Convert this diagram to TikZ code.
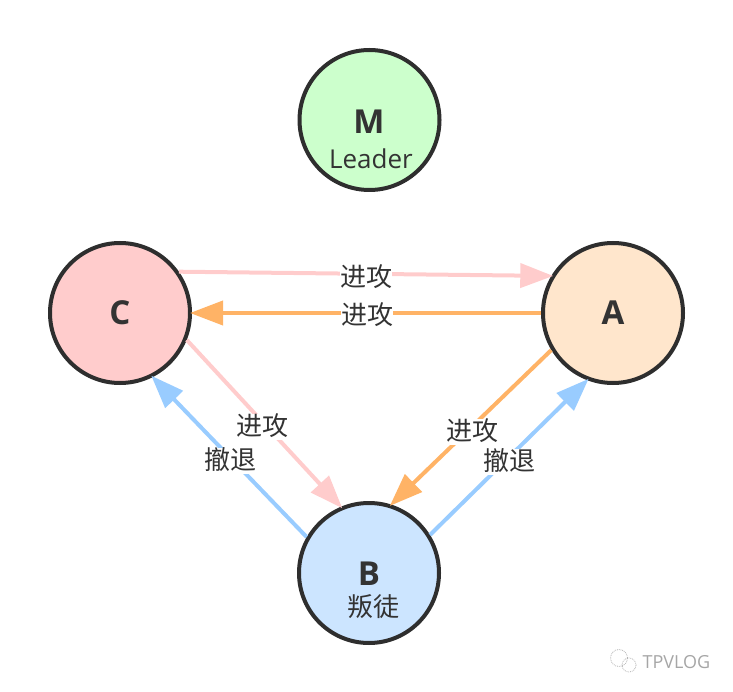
\documentclass[tikz,border=0pt]{standalone}
\usepackage{fontspec}
\setmainfont{Open Sans}
\newfontfamily\cjkfont{Noto Sans CJK SC}
\usetikzlibrary{arrows.meta}
\definecolor{inkdark}{HTML}{333333}
\definecolor{ringdark}{HTML}{2E2E2E}
\definecolor{leadergreen}{HTML}{CCFFCC}
\definecolor{attackpink}{HTML}{FFCCCC}
\definecolor{attackorange}{HTML}{FFB366}
\definecolor{retreatblue}{HTML}{99CCFF}
\definecolor{peerpeach}{HTML}{FFE6CC}
\definecolor{traitorblue}{HTML}{CCE5FF}
\tikzset{
  general/.style={circle,draw=ringdark,line width=4pt,minimum size=140pt,inner sep=0pt,
    text=inkdark,font=\fontsize{33}{33}\selectfont\bfseries},
  order/.style={line width=4pt,shorten >=-2pt,-{Triangle[length=33pt,width=24pt]}},
  orderlabel/.style={fill=white,inner sep=0pt,text=inkdark,text height=21pt,text depth=5pt,
    font=\fontsize{26}{26}\selectfont\cjkfont},
}
\begin{document}
\begin{tikzpicture}[x=1pt,y=-1pt]
    \useasboundingbox (0,0) rectangle (733,692);

    % the four generals
    \node[general,fill=leadergreen] (leader) at (369.5,120) {};
    \node[general,fill=attackpink] (genC) at (120,313) {\raisebox{-2pt}{C}};
    \node[general,fill=peerpeach] (genA) at (613,313) {\raisebox{-2pt}{A}};
    \node[general,fill=traitorblue] (genB) at (369,573) {};

    % text inside M and B
    \node[text=inkdark,font=\fontsize{33}{33}\selectfont\bfseries] (leadername) at (369,122) {M};
    \node[text=inkdark,font=\fontsize{26}{26}\selectfont] (leaderrole) at (371,159) {Leader};
    \node[text=inkdark,font=\fontsize{33}{33}\selectfont\bfseries] (traitorname) at (369,574) {B};
    \node[text=inkdark,font=\fontsize{26}{26}\selectfont\cjkfont] (traitorrole) at (373,607) {叛徒};

    % orders between the generals
    \draw[order,attackpink] (genC.35) -- (genA.149);
    \draw[order,attackorange] (genA.180) -- (genC.0);
    \draw[order,attackpink] (genC.-22) -- (genB.113);
    \draw[order,retreatblue] (genB.150) -- (genC.-63);
    \draw[order,attackorange] (genA.211) -- (genB.72);
    \draw[order,retreatblue] (genB.32) -- (genA.249);

    % labels sit on top of the lines
    \node[orderlabel] (attackCA) at (366,279) {进攻};
    \node[orderlabel] (attackAC) at (367,317) {进攻};
    \node[orderlabel] (attackCB) at (262,427) {进攻};
    \node[orderlabel] (retreatBC) at (230,461) {撤退};
    \node[orderlabel] (attackAB) at (472,432) {进攻};
    \node[orderlabel] (retreatBA) at (509,462) {撤退};

    % watermark
    \draw[gray!60,densely dotted,line width=.8pt] (619,658) circle (8.5);
    \draw[gray!60,densely dotted,line width=.8pt] (629,665) circle (7);
    \node[text=gray!70,font=\fontsize{18}{18}\selectfont] (mark) at (676.5,662) {TPVLOG};
\end{tikzpicture}
\end{document}
